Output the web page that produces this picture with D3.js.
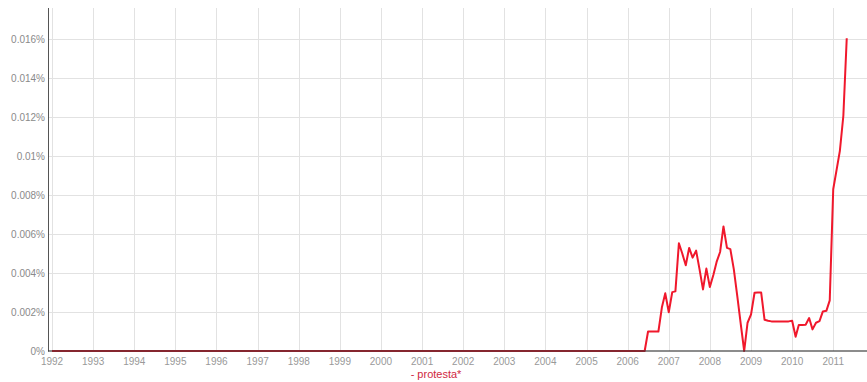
<!DOCTYPE html>
<html>
<head>
<meta charset="utf-8">
<script src="https://cdn.jsdelivr.net/npm/d3@7"></script>
<style>
  body { margin: 0; background: #fff; }
  svg { display: block; font-family: "Liberation Sans", Arial, sans-serif; }
</style>
</head>
<body>
<div id="chart"></div>
<script>
// monthly points, value in percent
const months = [
  "1992-01",
  "2006-06", "2006-07", "2006-08", "2006-09", "2006-10", "2006-11", "2006-12",
  "2007-01", "2007-02", "2007-03", "2007-04", "2007-05", "2007-06", "2007-07", "2007-08", "2007-09", "2007-10", "2007-11", "2007-12",
  "2008-01", "2008-02", "2008-03", "2008-04", "2008-05", "2008-06", "2008-07", "2008-08", "2008-09", "2008-10", "2008-11", "2008-12",
  "2009-01", "2009-02", "2009-03", "2009-04", "2009-05", "2009-06", "2009-07", "2009-08", "2009-09", "2009-10", "2009-11", "2009-12",
  "2010-01", "2010-02", "2010-03", "2010-04", "2010-05", "2010-06", "2010-07", "2010-08", "2010-09", "2010-10", "2010-11", "2010-12",
  "2011-01", "2011-02", "2011-03", "2011-04", "2011-05"
];
const protesta = [
  0,
  0, 0.001, 0.001, 0.001, 0.001, 0.00224, 0.00296,
  0.00199, 0.00302, 0.00306, 0.00553, 0.0050, 0.0044, 0.00529, 0.00479, 0.00515, 0.0042, 0.00316, 0.00423,
  0.00328, 0.0039, 0.00457, 0.00508, 0.00639, 0.00529, 0.00523, 0.00419, 0.0028, 0.0014, 0, 0.00145,
  0.00188, 0.00299, 0.003, 0.003, 0.0016, 0.00155, 0.00152, 0.00152, 0.00152, 0.00152, 0.00152, 0.00152,
  0.00155, 0.00073, 0.00133, 0.00133, 0.00135, 0.00169, 0.00111, 0.00145, 0.00153, 0.00203, 0.00206, 0.0026,
  0.0083, 0.00933, 0.01027, 0.01207, 0.01605
];
const years = d3.range(1992, 2012);
const yTicks = [0, 0.002, 0.004, 0.006, 0.008, 0.01, 0.012, 0.014, 0.016];
const seriesName = "protesta*";

const width = 867, height = 382;
const svg = d3.select("#chart").append("svg")
  .attr("width", width)
  .attr("height", height);

const parse = d3.timeParse("%Y-%m");
const data = months.map((m, i) => ({ date: parse(m), value: protesta[i] }));

const x = d3.scaleTime()
  .domain([new Date(1992, 0, 1), new Date(2011, 9, 28)])
  .range([52, 867]);
const y = d3.scaleLinear()
  .domain([0, 0.0176])
  .range([351, 8]);

// grid
svg.append("g").selectAll("line.h")
  .data(yTicks.slice(1))
  .join("line")
  .attr("x1", 49).attr("x2", width)
  .attr("y1", d => Math.round(y(d)) + 0.5)
  .attr("y2", d => Math.round(y(d)) + 0.5)
  .attr("stroke", "#e2e2e2");

svg.append("g").selectAll("line.v")
  .data(years)
  .join("line")
  .attr("x1", d => Math.round(x(new Date(d, 0, 1))) + 0.5)
  .attr("x2", d => Math.round(x(new Date(d, 0, 1))) + 0.5)
  .attr("y1", 8).attr("y2", 351)
  .attr("stroke", "#e2e2e2");

// y labels
svg.append("g").selectAll("text")
  .data(yTicks)
  .join("text")
  .attr("x", 45)
  .attr("y", d => y(d) + 4)
  .attr("text-anchor", "end")
  .style("font-size", "10px")
  .attr("fill", "#8a8a8a")
  .text(d => (+d.toFixed(3)) + "%");

// x labels
svg.append("g").selectAll("text")
  .data(years)
  .join("text")
  .attr("x", d => x(new Date(d, 0, 1)))
  .attr("y", 365)
  .attr("text-anchor", "middle")
  .style("font-size", "10px")
  .attr("fill", "#999")
  .text(d => d);

// series
const line = d3.line()
  .x(d => x(d.date))
  .y(d => y(d.value));

svg.append("path")
  .datum(data)
  .attr("fill", "none")
  .attr("stroke", "#f0182c")
  .attr("stroke-width", 2)
  .attr("stroke-linejoin", "round")
  .attr("d", line);

// axes
svg.append("line")
  .attr("x1", 48.5).attr("x2", 48.5)
  .attr("y1", 8).attr("y2", 351.5)
  .attr("stroke", "#555");
svg.append("line")
  .attr("x1", 48).attr("x2", width)
  .attr("y1", 351).attr("y2", 351)
  .attr("stroke", "#333")
  .attr("stroke-opacity", 0.75)
  .attr("stroke-width", 1.5);

// legend
svg.append("text")
  .attr("x", 436)
  .attr("y", 378)
  .attr("text-anchor", "middle")
  .style("font-size", "11px")
  .attr("fill", "#d0283f")
  .text("- " + seriesName);
</script>
</body>
</html>
